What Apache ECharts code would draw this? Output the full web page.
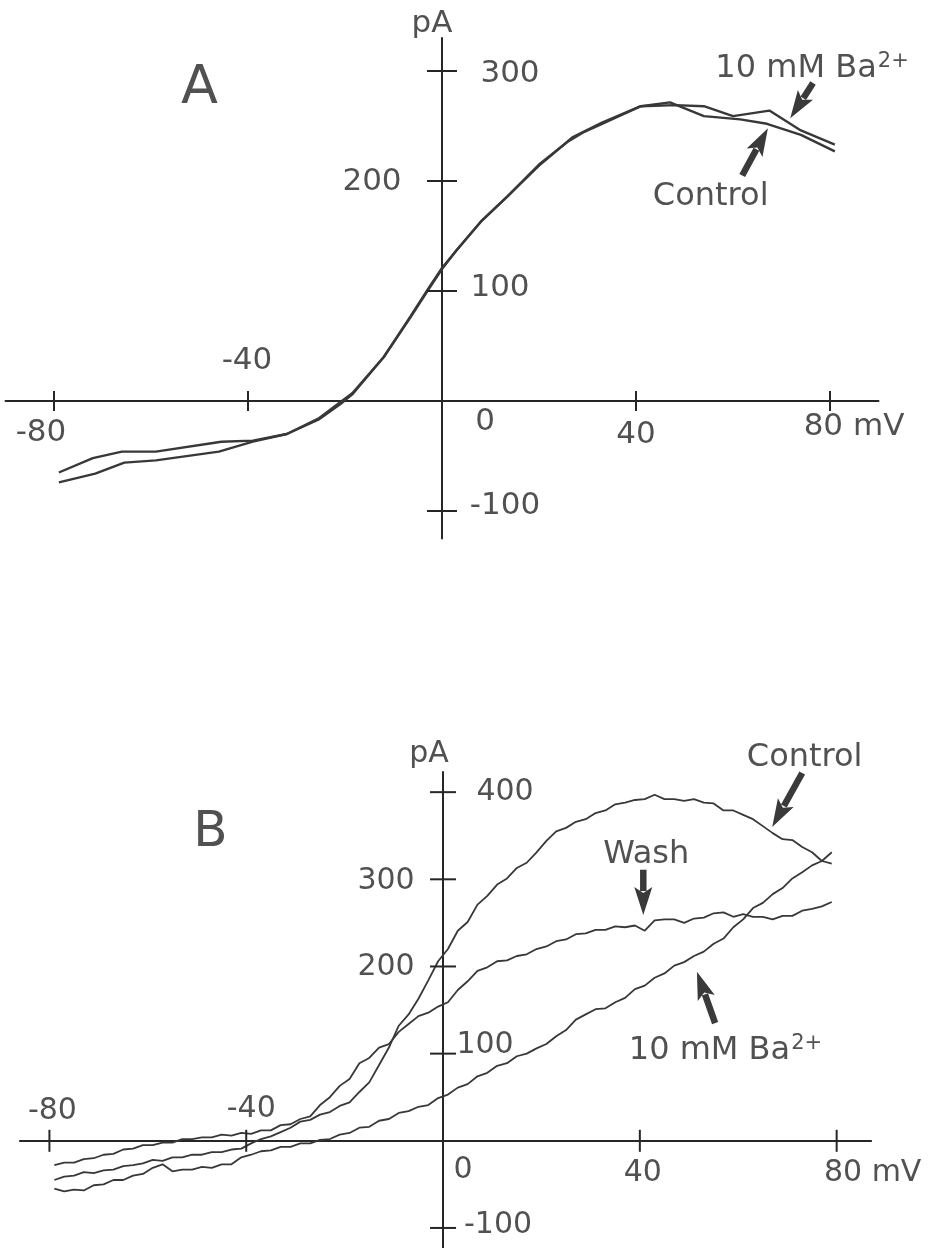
<!DOCTYPE html>
<html>
<head>
<meta charset="utf-8">
<script src="https://cdn.jsdelivr.net/npm/echarts@6/dist/echarts.min.js"></script>
<style>
html, body { margin: 0; padding: 0; background: #fff; }
#chart { width: 933px; height: 1248px; }
</style>
</head>
<body>
<div id="chart"></div>
<script>
'use strict';

// ---- panel A : step protocol I-V, [mV, pA] ----
var aControl = [[-79,-74],[-71.5,-66],[-65.5,-56],[-59,-54],[-46,-46],[-39,-37],[-32,-30],[-25.5,-17],
    [-21,-3],[-18.5,6],[-12,40],[-6.5,77],[-3,101],[0,121],[3,137],[8,163],[13.5,186],[20,214],
    [27,240],[33,253],[41,268],[47,271.5],[54,259],[61.5,256],[67,252],[74,242],[81,227]];
var aBarium = [[-79,-65],[-72,-52],[-66,-46],[-59,-46],[-45.5,-37],[-39,-36],[-32,-30],[-25.5,-16],
    [-21,-1],[-18.5,7],[-12,40],[-6.5,76],[-3,100],[0,120],[3,137],[8,163],[13.5,186],[20,215],
    [26,236],[29,244],[33,252],[41,268],[48,269],[54,268],[60,259],[67.5,264],[74,246],[81,233]];
var aXTicks = [-80, -40, 40, 80];
var aYTicks = [300, 200, 100, -100];
var aXLabelAt = [-80, -40, 0, 40, 80];
var aXLabels = ['-80', '-40', '0', '40', '80 mV'];
var aYLabels = ['300', '200', '100', '-100'];

// ---- panel B : ramp I-V traces ----
var bVolts = [-79,-77,-75,-73,-71,-69,-67,-65,-63,-61,-59,-57,-55,-53,-51,-49,-47,-45,-43,-41,
    -39,-37,-35,-33,-31,-29,-27,-25,-23,-21,-19,-17,-15,-13,-11,-9,-7,-5,-3,-1,
    1,3,5,7,9,11,13,15,17,19,21,23,25,27,29,31,33,35,37,39,
    41,43,45,47,49,51,53,55,57,59,61,63,65,67,69,71,73,75,77,79];
var bControl = [-45,-41,-40,-36,-37,-34,-33,-29,-28,-26,-22,-23,-19,-19,-16,-16,-13,-13,-10,-9,
    -3,2,5,10,15,22,24,30,33,40,44,56,67,87,107,132,145,163,184,206,
    220,241,251,271,281,294,301,313,319,331,344,355,359,366,369,376,379,386,388,391,
    392,397,392,392,390,392,388,387,379,379,374,369,361,353,346,345,337,331,321,318];
var bWash = [-28,-25,-25,-21,-20,-16,-15,-10,-9,-5,-5,-2,-2,2,2,4,4,7,6,9,
    8,12,12,18,19,25,28,41,50,63,71,89,95,107,111,125,134,143,147,154,
    159,173,183,195,199,206,207,212,214,220,223,229,231,237,238,242,242,246,245,247,
    241,253,254,254,250,255,256,261,262,257,260,257,257,254,258,258,264,266,269,274];
var bBarium = [-55,-58,-56,-57,-51,-50,-45,-45,-40,-38,-31,-27,-35,-33,-33,-30,-31,-27,-27,-19,
    -16,-12,-11,-7,-7,-3,-3,1,2,7,9,15,16,23,25,32,34,39,41,49,
    53,61,65,74,78,86,89,97,100,106,111,120,127,139,145,151,152,159,164,174,
    178,187,192,201,205,212,217,226,232,245,254,267,273,283,290,301,308,316,321,331];
var bXTicks = [-80, -40, 40, 80];
var bYTicks = [400, 300, 200, 100, -100];
var bXLabelAt = [-80, -40, 0, 40, 80];
var bXLabels = ['-80', '-40', '0', '40', '80 mV'];
var bYLabels = ['400', '300', '200', '100', '-100'];

// annotation arrows: [tail mV, tail pA, tip mV, tip pA]
var aArrows = [[76.5, 289, 71.8, 257], [61.9, 205, 67.2, 248]];
var bArrows = [[73, 422, 66.9, 360], [40.7, 311, 40.7, 259], [55.3, 135, 51.6, 194]];

var INK = '#262626';
var FONT = 'DejaVu Sans';

var zip = function (xs, ys) {
    return xs.map(function (x, i) { return [x, ys[i]]; });
};

var makeAxis = function (idx, min, max) {
    return {
        gridIndex: idx, type: 'value', min: min, max: max,
        axisLine: { onZero: true, lineStyle: { color: INK, width: 2 } },
        axisTick: { show: false }, axisLabel: { show: false }, splitLine: { show: false }
    };
};

// ticks that cross the axis line on both sides
var tickSeries = function (idx, values, dir, half) {
    return {
        type: 'custom', xAxisIndex: idx, yAxisIndex: idx, silent: true, clip: false, z: 3,
        data: values.map(function (v) { return dir === 'x' ? [v, 0] : [0, v]; }),
        renderItem: function (params, api) {
            var p = api.coord([api.value(0), api.value(1)]);
            var shape = dir === 'x'
                ? { x1: p[0], y1: p[1] - half, x2: p[0], y2: p[1] + half }
                : { x1: p[0] - half, y1: p[1], x2: p[0] + half, y2: p[1] };
            return { type: 'line', shape: shape, style: { stroke: INK, lineWidth: 2 } };
        }
    };
};

var arrowSeries = function (idx, arrows) {
    return {
        type: 'custom', xAxisIndex: idx, yAxisIndex: idx, silent: true, clip: false, z: 4,
        data: arrows,
        renderItem: function (params, api) {
            var t = api.coord([api.value(0), api.value(1)]);
            var h = api.coord([api.value(2), api.value(3)]);
            var dx = h[0] - t[0], dy = h[1] - t[1];
            var len = Math.sqrt(dx * dx + dy * dy);
            var ux = dx / len, uy = dy / len;
            var headLen = 28, headW = 9;
            var bx = h[0] - ux * headLen, by = h[1] - uy * headLen;
            return {
                type: 'group',
                children: [
                    { type: 'line', shape: { x1: t[0], y1: t[1], x2: bx + ux * 4, y2: by + uy * 4 },
                      style: { stroke: '#3a3a3a', lineWidth: 6.5 } },
                    { type: 'polygon', shape: { points: [[h[0], h[1]],
                        [bx - uy * headW, by + ux * headW], [bx + ux * 6, by + uy * 6],
                        [bx + uy * headW, by - ux * headW]] },
                      style: { fill: '#3a3a3a' } }
                ]
            };
        }
    };
};

// text placed at a data point, shifted by a pixel offset
var textSeries = function (idx, items) {
    return {
        type: 'scatter', xAxisIndex: idx, yAxisIndex: idx, silent: true, clip: false, z: 5,
        symbolSize: 1, itemStyle: { color: 'rgba(0,0,0,0)' },
        label: {
            show: true, position: 'inside', color: INK, fontFamily: FONT,
            formatter: function (p) { return p.name; },
            rich: {
                m: { fontSize: 32, lineHeight: 36, color: INK, fontFamily: FONT },
                s: { fontSize: 21, lineHeight: 21, verticalAlign: 'top', color: INK, fontFamily: FONT,
                     padding: [0, 0, 0, 1] }
            }
        },
        data: items.map(function (it) {
            return { name: it[0], value: it[1], label: { offset: it[2], fontSize: it[3] } };
        })
    };
};

var curve = function (idx, data, width) {
    return {
        type: 'line', xAxisIndex: idx, yAxisIndex: idx, data: data, showSymbol: false,
        silent: true, z: 2, lineStyle: { color: '#383838', width: width }
    };
};

var baText = '{m|10 mM Ba}{s|2+}';

var aXOff = [[-13, 32], [-1, -40], [43, 21], [0, 34], [24, 26]];
var aYOff = [[68, 3], [-70, 1], [58, -3], [63, -5]];
var bXOff = [[3, -30], [5, -32], [20, 29], [3, 32], [36, 32]];
var bYOff = [[62, 0], [-57, 2], [-57, 1], [42, -8], [55, -3]];

var aTexts = aXLabels.map(function (s, i) { return [s, [aXLabelAt[i], 0], aXOff[i], 31]; })
    .concat(aYLabels.map(function (s, i) { return [s, [0, aYTicks[i]], aYOff[i], 31]; }))
    .concat([
        ['pA', [0, 330], [-10, -14], 31],
        ['A', [-50, 284], [0, 0], 54],
        [baText, [76.3, 302], [0, 0], 32],
        ['Control', [55.4, 186], [0, 0], 32]
    ]);
var bTexts = bXLabels.map(function (s, i) { return [s, [bXLabelAt[i], 0], bXOff[i], 30]; })
    .concat(bYLabels.map(function (s, i) { return [s, [0, bYTicks[i]], bYOff[i], 30]; }))
    .concat([
        ['pA', [0, 423], [-14, -18], 30],
        ['B', [-47.3, 353], [0, 0], 50],
        ['Control', [73.5, 440], [0, 0], 32],
        ['Wash', [41.3, 328], [0, 0], 32],
        [baText, [57.4, 103], [0, 0], 32]
    ]);

var option = {
    animation: false,
    backgroundColor: '#ffffff',
    grid: [
        { left: 5.5, top: 38, width: 873, height: 500.5 },
        { left: 19.9, top: 772.1, width: 851.2, height: 476.2 }
    ],
    xAxis: [makeAxis(0, -90, 90), makeAxis(1, -86, 87)],
    yAxis: [makeAxis(0, -125, 330), makeAxis(1, -123, 423)],
    series: [
        curve(0, aControl, 2.4),
        curve(0, aBarium, 2.4),
        tickSeries(0, aXTicks, 'x', 10),
        tickSeries(0, aYTicks, 'y', 15),
        arrowSeries(0, aArrows),
        textSeries(0, aTexts),
        curve(1, zip(bVolts, bControl), 1.8),
        curve(1, zip(bVolts, bWash), 1.8),
        curve(1, zip(bVolts, bBarium), 1.8),
        tickSeries(1, bXTicks, 'x', 11),
        tickSeries(1, bYTicks, 'y', 13),
        arrowSeries(1, bArrows),
        textSeries(1, bTexts)
    ]
};

var chart = echarts.init(document.getElementById('chart'));
chart.setOption(option);
</script>
</body>
</html>
